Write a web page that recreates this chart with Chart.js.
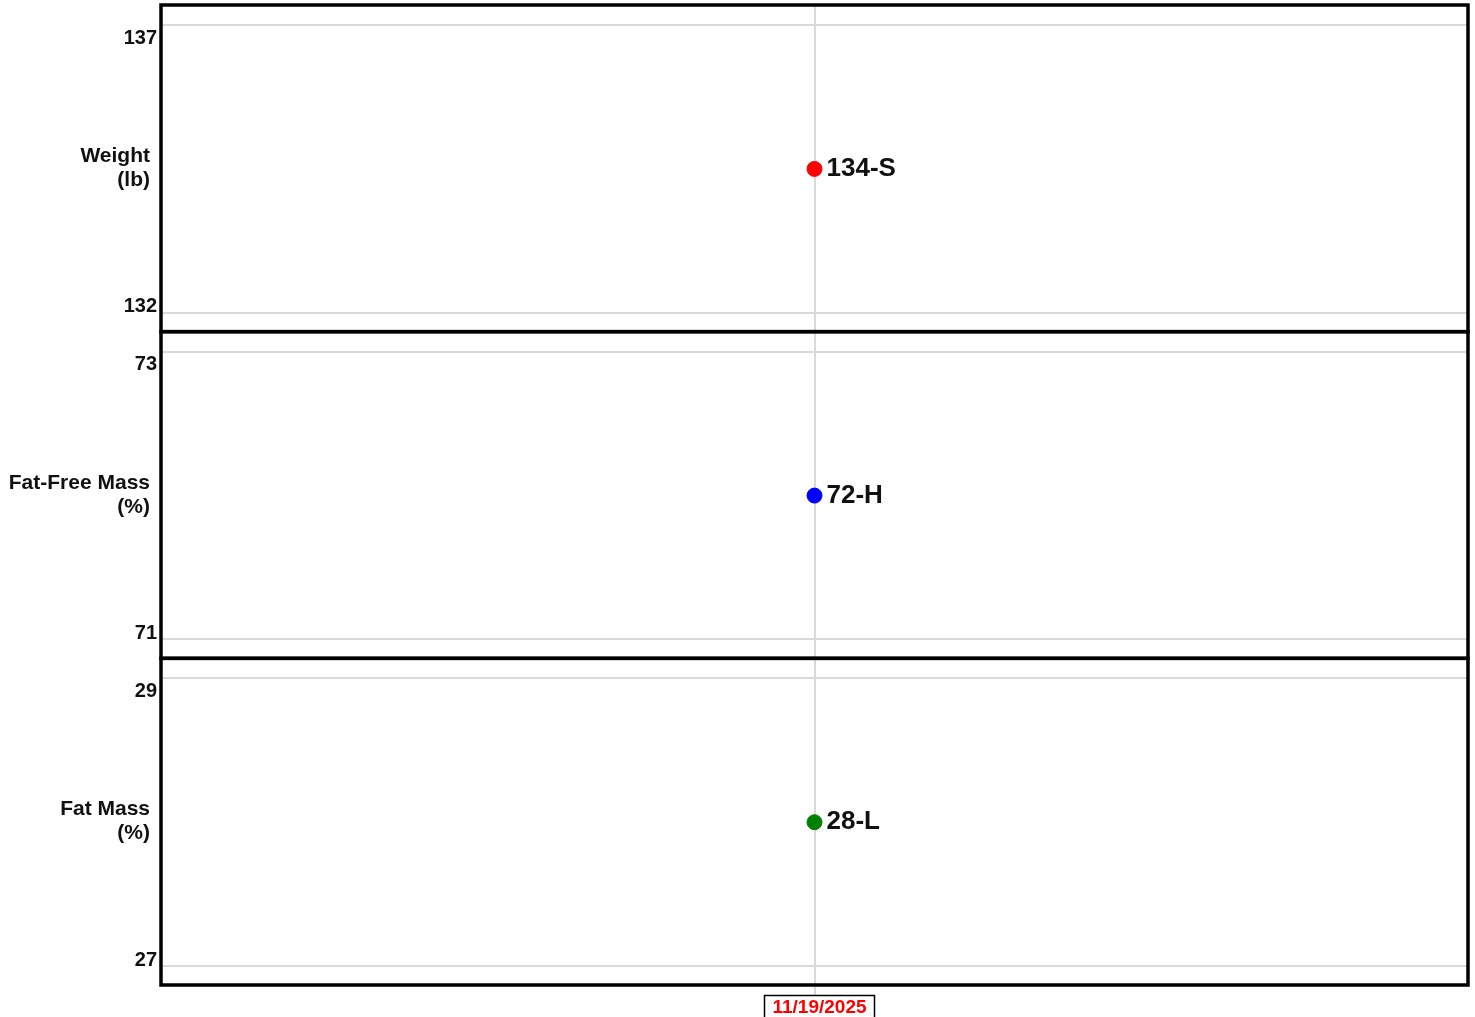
<!DOCTYPE html>
<html>
<head>
<meta charset="utf-8">
<script src="https://cdn.jsdelivr.net/npm/chart.js@4.4.1/dist/chart.umd.min.js"></script>
<style>
html,body{margin:0;padding:0;background:#fff;}
#wrap{position:relative;width:1475px;height:1017px;}
</style>
</head>
<body>
<div id="wrap"><canvas id="chart" width="1475" height="1017"></canvas></div>
<script>
// data
const dates = ["11/19/2025"];
const weightVals = [134.5];
const ffmVals = [72];
const fatVals = [28];
const pointLabels = ["134-S", "72-H", "28-L"];
const weightTicks = [137, 132];
const ffmTicks = [73, 71];
const fatTicks = [29, 27];
const panelTitles = [["Weight", "(lb)"], ["Fat-Free Mass", "(%)"], ["Fat Mass", "(%)"]];
const pointColors = ["#ff0000", "#0000ff", "#008000"];

const FONT = "'Liberation Sans', Arial, sans-serif";

function yAxis(ticks){
const range = ticks[0] - ticks[1];
return {
type:"linear",
position:"left",
stack:"panels",
stackWeight:1,
min:ticks[1] - range*0.066,
max:ticks[0] + range*0.07,
afterBuildTicks:s=>{ s.ticks = ticks.map(v=>({value:v})); },
afterFit:s=>{ s.width = 161; s.paddingTop = 0; s.paddingBottom = 0; },
border:{display:false},
grid:{color:"#d9d9d9", lineWidth:2, drawTicks:false},
// labels drawn by the plugin: top one sits under its line, bottom one above
ticks:{display:false}
};
}

const axisTicks = {y1:weightTicks, y2:ffmTicks, y3:fatTicks};

const panelPlugin = {
id:"panels",
afterDraw(chart){
const ctx = chart.ctx;
const area = chart.chartArea;
const ids = ["y1", "y2", "y3"];
ctx.save();

// panel frames
ctx.strokeStyle = "#000";
ctx.lineWidth = 3.5;
ids.forEach(id=>{
const s = chart.scales[id];
ctx.strokeRect(area.left, s.top, area.right - area.left, s.bottom - s.top);
});

// y tick labels
ctx.fillStyle = "#111";
ctx.font = "bold 20px " + FONT;
ctx.textAlign = "right";
ctx.textBaseline = "middle";
ids.forEach(id=>{
const s = chart.scales[id];
const t = axisTicks[id];
ctx.fillText(String(t[0]), 157, s.getPixelForValue(t[0]) + 13);
ctx.fillText(String(t[1]), 157, s.getPixelForValue(t[1]) - 6);
});

// panel titles, horizontal and right aligned
ctx.font = "bold 21px " + FONT;
ids.forEach((id, i)=>{
const s = chart.scales[id];
const mid = (s.top + s.bottom)/2;
ctx.fillText(panelTitles[i][0], 150, mid - 12);
ctx.fillText(panelTitles[i][1], 150, mid + 12);
});

// point value labels
ctx.font = "bold 26px " + FONT;
ctx.textAlign = "left";
chart.data.datasets.forEach((ds, i)=>{
chart.getDatasetMeta(i).data.forEach(pt=>{
ctx.fillText(pointLabels[i], pt.x + 12, pt.y);
});
});

// box round the date label
const xs = chart.scales.x;
ctx.font = "bold 19px " + FONT;
const w = ctx.measureText(dates[0]).width;
const cx = xs.getPixelForTick(0) + 5;
ctx.lineWidth = 1.5;
ctx.strokeStyle = "#000";
ctx.strokeRect(Math.round(cx - w/2 - 8) + 0.5, 995.5, Math.round(w + 16), 26);
ctx.restore();
}
};

new Chart(document.getElementById("chart"), {
type:"line",
data:{
labels:dates,
datasets:[
{data:weightVals, yAxisID:"y1", backgroundColor:pointColors[0], borderColor:pointColors[0], pointRadius:7.5, showLine:false},
{data:ffmVals, yAxisID:"y2", backgroundColor:pointColors[1], borderColor:pointColors[1], pointRadius:7.5, showLine:false},
{data:fatVals, yAxisID:"y3", backgroundColor:pointColors[2], borderColor:pointColors[2], pointRadius:7.5, showLine:false}
]
},
options:{
responsive:false,
animation:false,
layout:{autoPadding:false, padding:{left:0, top:5, right:7, bottom:0}},
plugins:{legend:{display:false}, tooltip:{enabled:false}},
scales:{
x:{
type:"category",
offset:true,
afterFit:s=>{ s.height = 32; },
border:{display:false},
grid:{offset:false, color:"#d9d9d9", lineWidth:2, tickLength:10},
ticks:{color:"#ff0000", font:{family:FONT, size:19, weight:"bold"}, padding:1, labelOffset:5, maxRotation:0}
},
// left stacked axes are placed in reverse order, so the top panel is listed last
y3:yAxis(fatTicks),
y2:yAxis(ffmTicks),
y1:yAxis(weightTicks)
}
},
plugins:[panelPlugin]
});
</script>
</body>
</html>
